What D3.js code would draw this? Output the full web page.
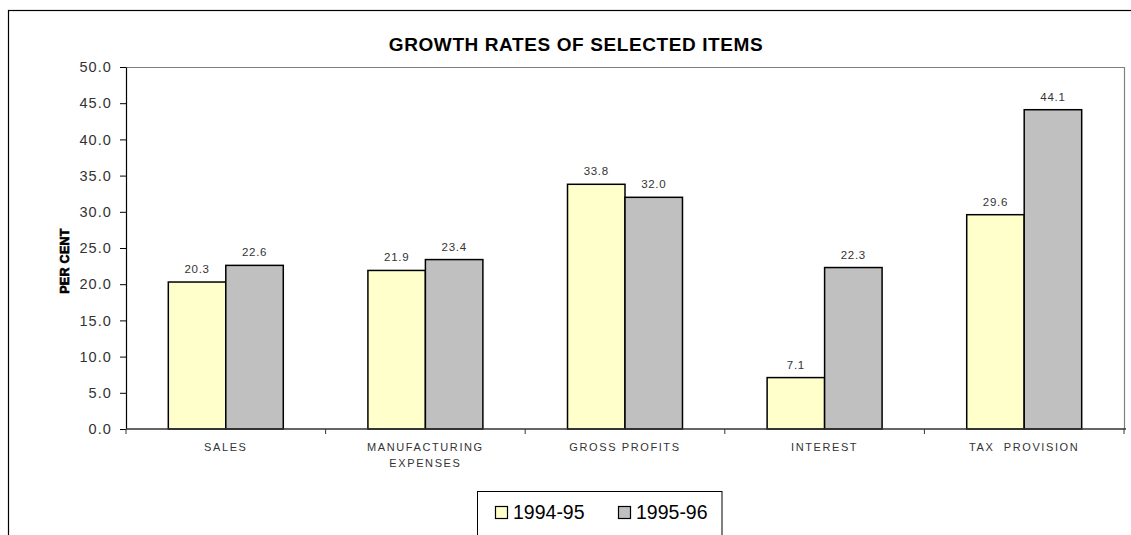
<!DOCTYPE html>
<html>
<head>
<meta charset="utf-8">
<script src="https://cdn.jsdelivr.net/npm/d3@7"></script>
<style>
  html, body { margin: 0; padding: 0; background: #fff; }
  svg { display: block; }
</style>
</head>
<body>
<svg id="chart" width="1131" height="535"></svg>
<script>
// Growth rates (per cent) of selected items
const categories = [["SALES"], ["MANUFACTURING", "EXPENSES"], ["GROSS PROFITS"], ["INTEREST"], ["TAX  PROVISION"]];
const seriesNames = ["1994-95", "1995-96"];
const values9495 = [20.3, 21.9, 33.8, 7.1, 29.6];
const values9596 = [22.6, 23.4, 32.0, 22.3, 44.1];
const yTicks = [0, 5, 10, 15, 20, 25, 30, 35, 40, 45, 50];
const seriesColors = ["#FFFFCC", "#C0C0C0"];

const svg = d3.select("#chart");
const margin = { left: 126, top: 67, right: 1124, bottom: 429 };

// Outer chart frame (open on right and bottom edges)
svg.append("rect")
  .attr("x", 8.5).attr("y", 10.5)
  .attr("width", 1200).attr("height", 600)
  .attr("fill", "#fff").attr("stroke", "#000").attr("stroke-width", 1.2);

svg.append("text")
  .attr("x", 576).attr("y", 51)
  .attr("text-anchor", "middle")
  .attr("font-family", "Liberation Sans, Arial, sans-serif")
  .attr("font-weight", "bold")
  .attr("font-size", 19)
  .attr("letter-spacing", 0.6)
  .attr("fill", "#000")
  .text("GROWTH RATES OF SELECTED ITEMS");

const x0 = d3.scaleBand()
  .domain(d3.range(categories.length))
  .range([margin.left, margin.right])
  .padding(0);

const groupWidth = x0.bandwidth() * 0.576;
const x1 = d3.scaleBand()
  .domain(seriesNames)
  .range([0, groupWidth])
  .padding(0);

const y = d3.scaleLinear().domain([0, 50]).range([margin.bottom, margin.top]);

// Plot area border (top and right in gray)
svg.append("path")
  .attr("d", `M${margin.left},${margin.top + 0.5}H${margin.right + 0.5}V${margin.bottom}`)
  .attr("fill", "none").attr("stroke", "#808080").attr("stroke-width", 1.2);

const series = [values9495, values9596];
const bars = svg.append("g");
categories.forEach((c, i) => {
  const gx = x0(i) + (x0.bandwidth() - groupWidth) / 2;
  series.forEach((vals, s) => {
    const v = vals[i];
    bars.append("rect")
      .attr("x", gx + x1(seriesNames[s]))
      .attr("y", y(v))
      .attr("width", x1.bandwidth())
      .attr("height", y(0) - y(v))
      .attr("fill", seriesColors[s])
      .attr("stroke", "#000")
      .attr("stroke-width", 1.5);
    bars.append("text")
      .attr("x", gx + x1(seriesNames[s]) + x1.bandwidth() / 2)
      .attr("y", y(v) - 9)
      .attr("text-anchor", "middle")
      .attr("font-family", "Liberation Sans, Arial, sans-serif")
      .attr("font-size", 11.5)
      .attr("letter-spacing", 0.7)
      .attr("fill", "#333")
      .text(v.toFixed(1));
  });
});

// Y axis
const yAxis = d3.axisLeft(y).tickValues(yTicks).tickSize(6).tickSizeOuter(0)
  .tickFormat(d => d.toFixed(1));
const gy = svg.append("g").attr("transform", `translate(${margin.left},0)`).call(yAxis);
gy.select(".domain").attr("stroke", "#000").attr("stroke-width", 1.2);
gy.selectAll(".tick line").attr("stroke", "#000");
gy.selectAll(".tick text")
  .attr("x", -14)
  .attr("font-family", "Liberation Sans, Arial, sans-serif")
  .attr("font-size", 14.5)
  .attr("letter-spacing", 1.1)
  .attr("fill", "#333");

// X axis with boundary ticks between categories
const gx = svg.append("g").attr("transform", `translate(0,${margin.bottom})`);
gx.append("line")
  .attr("x1", margin.left).attr("x2", margin.right + 2)
  .attr("stroke", "#333").attr("stroke-width", 1.5);
d3.range(categories.length + 1).forEach(i => {
  const xx = i < categories.length ? x0(i) : margin.right;
  gx.append("line")
    .attr("x1", xx).attr("x2", xx).attr("y1", 0).attr("y2", 5)
    .attr("stroke", "#333");
});
categories.forEach((lines, i) => {
  const t = gx.append("text")
    .attr("x", x0(i) + x0.bandwidth() / 2)
    .attr("y", 22)
    .attr("text-anchor", "middle")
    .attr("font-family", "Liberation Sans, Arial, sans-serif")
    .attr("font-size", 11)
    .attr("letter-spacing", 1.6)
    .attr("fill", "#333");
  lines.forEach((ln, k) => {
    t.append("tspan")
      .attr("x", x0(i) + x0.bandwidth() / 2)
      .attr("dy", k === 0 ? 0 : 16)
      .attr("xml:space", "preserve")
      .text(ln);
  });
});

// Y axis title
svg.append("text")
  .attr("transform", `translate(69,261) rotate(-90)`)
  .attr("text-anchor", "middle")
  .attr("font-family", "Liberation Sans, Arial, sans-serif")
  .attr("font-weight", "bold")
  .attr("font-size", 12.5)
  .attr("letter-spacing", 0.3)
  .attr("stroke", "#000")
  .attr("stroke-width", 0.6)
  .attr("fill", "#000")
  .text("PER CENT");

// Legend
const legend = svg.append("g");
legend.append("rect")
  .attr("x", 477.5).attr("y", 491.5)
  .attr("width", 244.5).attr("height", 80)
  .attr("fill", "#fff").attr("stroke", "#000").attr("stroke-width", 1);
const legendX = [495, 618];
seriesNames.forEach((name, s) => {
  legend.append("rect")
    .attr("x", legendX[s] + 0.5).attr("y", 506.5)
    .attr("width", 12).attr("height", 12)
    .attr("fill", seriesColors[s]).attr("stroke", "#000").attr("stroke-width", 1.2);
  legend.append("text")
    .attr("x", legendX[s] + 18).attr("y", 518.5)
    .attr("font-family", "Liberation Sans, Arial, sans-serif")
    .attr("font-size", 19.5)
    .attr("fill", "#000")
    .text(name);
});
</script>
</body>
</html>
